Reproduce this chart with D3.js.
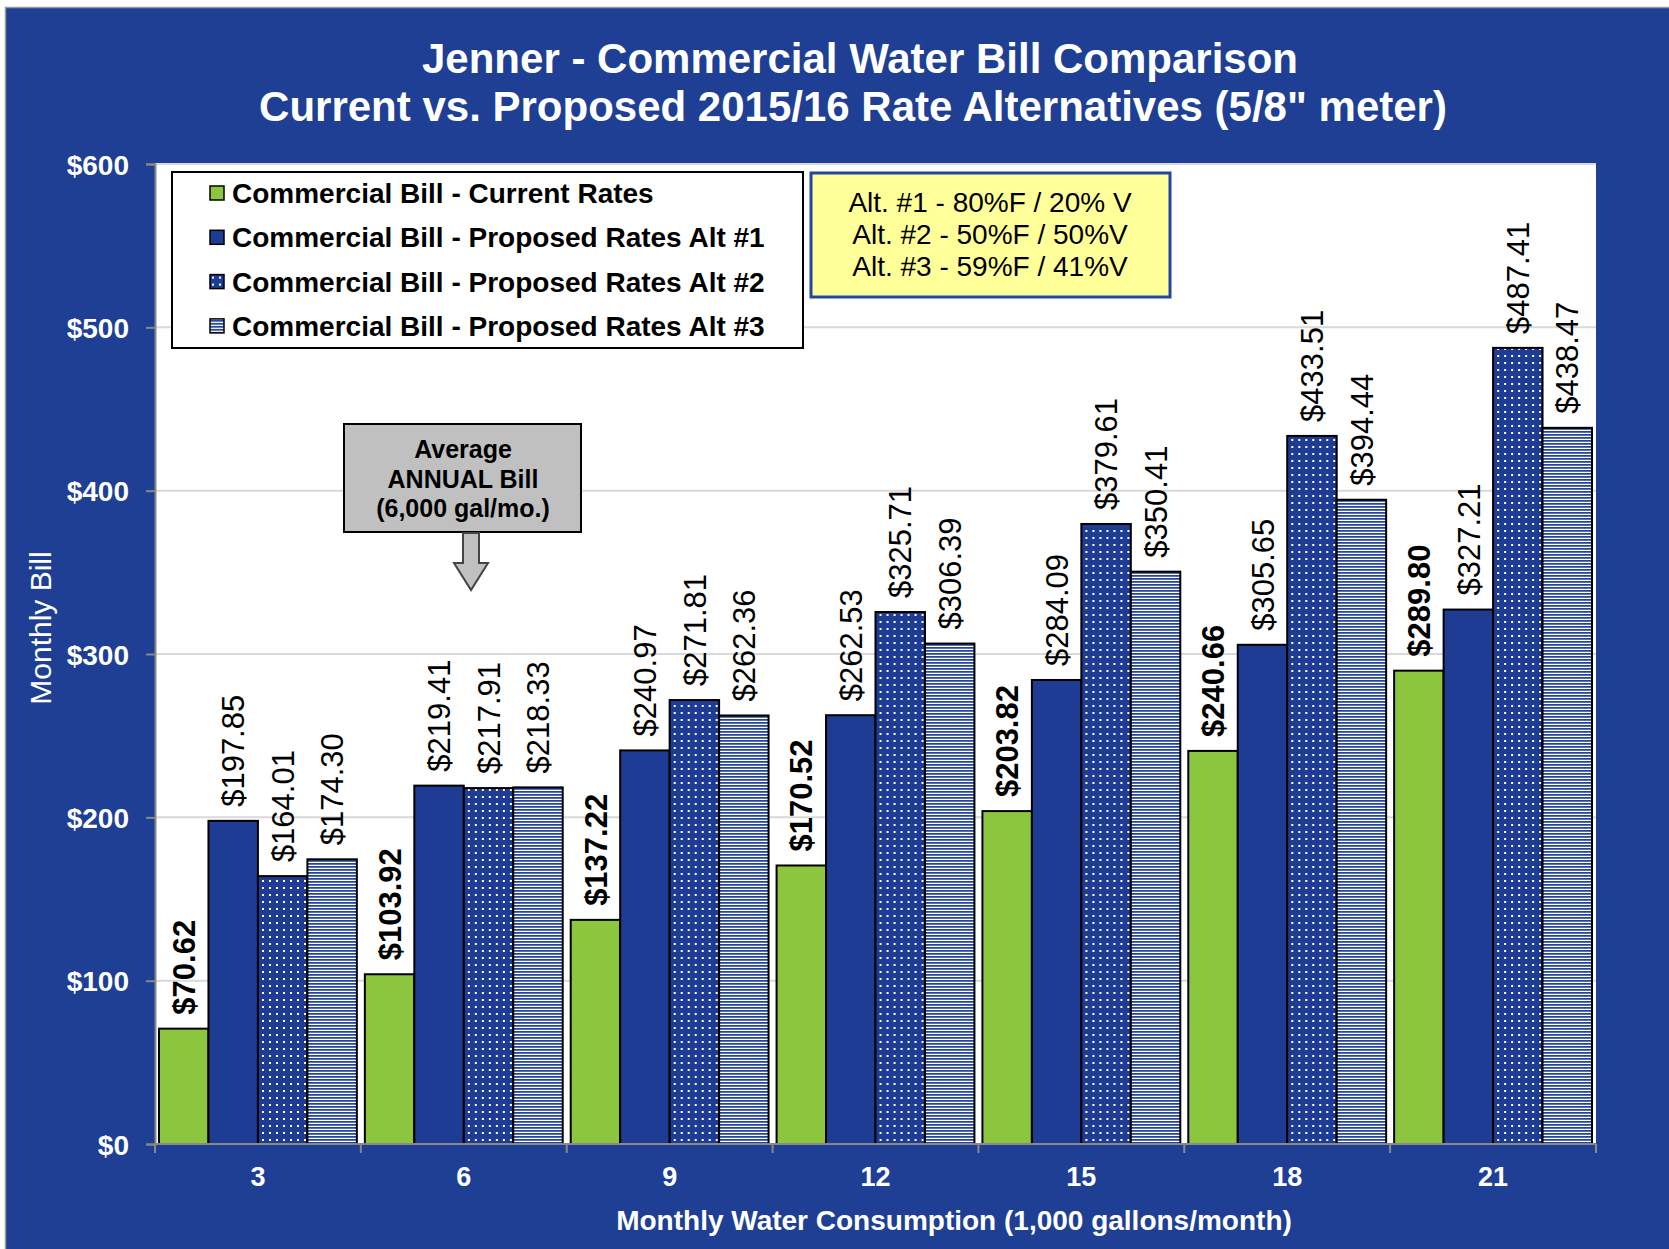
<!DOCTYPE html>
<html>
<head>
<meta charset="utf-8">
<script src="https://cdn.jsdelivr.net/npm/d3@7"></script>
<style>
  body { margin: 0; background: #fff; }
  svg { display: block; font-family: "Liberation Sans", Arial, sans-serif; }
  .graph__title { fill: #fff; font-weight: bold; font-size: 42px; }
  .axis__label { fill: #fff; font-weight: bold; font-size: 27px; }
  .bar__label { font-size: 31px; fill: #000; }
</style>
</head>
<body>
<svg class="bill-frame"></svg>
<script>
// data
const usage = ["3", "6", "9", "12", "15", "18", "21"];
const currentRates = [70.62, 103.92, 137.22, 170.52, 203.82, 240.66, 289.80];
const alt1 = [197.85, 219.41, 240.97, 262.53, 284.09, 305.65, 327.21];
const alt2 = [164.01, 217.91, 271.81, 325.71, 379.61, 433.51, 487.41];
const alt3 = [174.30, 218.33, 262.36, 306.39, 350.41, 394.44, 438.47];
const seriesNames = [
  "Commercial Bill - Current Rates",
  "Commercial Bill - Proposed Rates Alt #1",
  "Commercial Bill - Proposed Rates Alt #2",
  "Commercial Bill - Proposed Rates Alt #3"
];
const yTicks = [0, 100, 200, 300, 400, 500, 600];
const altNotes = ["Alt. #1 - 80%F / 20% V", "Alt. #2 - 50%F / 50%V", "Alt. #3 - 59%F / 41%V"];
const calloutLines = ["Average", "ANNUAL Bill", "(6,000 gal/mo.)"];

const seriesValues = [currentRates, alt1, alt2, alt3];
const data = usage.map((u, i) => ({
  usage: u,
  values: seriesValues.map((s, k) => ({ key: k, value: s[i] }))
}));

const blue = "#1e3f93";
const barBlue = "#1f3c94";
const green = "#8cc63e";

const margin = {top: 164, right: 73, bottom: 105, left: 155}
  , fullWidth = 1669
  , fullHeight = 1249
  , width = fullWidth - margin.left - margin.right
  , height = fullHeight - margin.top - margin.bottom;

const svg = d3.select(".bill-frame")
  .attr("width", fullWidth)
  .attr("height", fullHeight);

// patterns for alt #2 (dots) and alt #3 (stripes)
const defs = svg.append("defs");
const dots = defs.append("pattern")
  .attr("id", "dots")
  .attr("patternUnits", "userSpaceOnUse")
  .attr("width", 7).attr("height", 7);
dots.append("rect").attr("width", 7).attr("height", 7).attr("fill", barBlue);
dots.append("rect").attr("x", 2).attr("y", 2).attr("width", 2).attr("height", 2).attr("fill", "#fff");

const stripes = defs.append("pattern")
  .attr("id", "stripes")
  .attr("patternUnits", "userSpaceOnUse")
  .attr("width", 8).attr("height", 3);
stripes.append("rect").attr("width", 8).attr("height", 3).attr("fill", "#fff");
stripes.append("rect").attr("width", 8).attr("height", 1).attr("fill", "#2444a0");
stripes.append("rect").attr("y", 1).attr("width", 8).attr("height", 1).attr("fill", "#5670b8");

const fills = [green, barBlue, "url(#dots)", "url(#stripes)"];

// outer background
svg.append("rect")
  .attr("x", 5.5).attr("y", 7.5)
  .attr("width", fullWidth).attr("height", fullHeight)
  .attr("fill", blue)
  .attr("stroke", "#999")
  .attr("stroke-width", 1.5);

svg.append("text")
  .attr("x", 860)
  .attr("y", 73)
  .attr("text-anchor", "middle")
  .attr("class", "graph__title")
  .text("Jenner - Commercial Water Bill Comparison");

svg.append("text")
  .attr("x", 853)
  .attr("y", 121)
  .attr("text-anchor", "middle")
  .attr("class", "graph__title")
  .text("Current vs. Proposed 2015/16 Rate Alternatives (5/8\" meter)");

const graph = svg.append("g")
  .attr("transform", "translate(" + margin.left + "," + margin.top + ")")
  .attr("class", "graph");

graph.append("rect")
  .attr("width", width)
  .attr("height", height)
  .attr("fill", "#fff");

const xScale = d3.scaleBand()
  .range([0, width])
  .domain(usage);

const xInner = d3.scaleBand()
  .domain(d3.range(seriesNames.length))
  .range([4, xScale.bandwidth() - 4]);

const yScale = d3.scaleLinear()
  .range([height, 0])
  .domain([0, 600]);

// gridlines
graph.append("g")
  .selectAll("line")
  .data(yTicks.slice(1))
  .enter().append("line")
  .attr("x1", 0).attr("x2", width)
  .attr("y1", (d) => yScale(d)).attr("y2", (d) => yScale(d))
  .attr("stroke", "#d9d9d9")
  .attr("stroke-width", 2);

// y axis
const yAxis = d3.axisLeft(yScale)
  .tickValues(yTicks)
  .tickSize(9)
  .tickPadding(17)
  .tickFormat((d) => "$" + d);

const yG = graph.append("g").call(yAxis);
yG.select(".domain").attr("stroke", "#888").attr("stroke-width", 2);
yG.selectAll(".tick line").attr("stroke", "#888").attr("stroke-width", 2);
yG.selectAll(".tick text")
  .attr("class", "axis__label")
  .attr("font-size", null)
  .attr("font-family", null)
  .style("font-size", "28px")
  .attr("dy", "0.36em");

// bars
const groups = graph.selectAll(".group")
  .data(data)
  .enter().append("g")
  .attr("class", "group")
  .attr("transform", (d) => "translate(" + xScale(d.usage) + ",0)");

groups.selectAll("rect")
  .data((d) => d.values)
  .enter().append("rect")
  .attr("x", (d) => xInner(d.key))
  .attr("width", xInner.bandwidth())
  .attr("y", (d) => yScale(d.value))
  .attr("height", (d) => height - yScale(d.value))
  .attr("fill", (d) => fills[d.key])
  .attr("stroke", "#000")
  .attr("stroke-width", 2);

groups.selectAll(".bar__label")
  .data((d) => d.values)
  .enter().append("text")
  .attr("class", "bar__label")
  .attr("transform", (d) => "translate(" + (xInner(d.key) + xInner.bandwidth() / 2) + "," + (yScale(d.value) - 14) + ") rotate(-90)")
  .attr("dy", "0.36em")
  .attr("font-weight", (d) => d.key === 0 ? "bold" : "normal")
  .text((d) => "$" + d3.format(".2f")(d.value));

// x axis: ticks at group boundaries, labels at centres
const xG = graph.append("g")
  .attr("transform", "translate(0," + height + ")");

xG.append("line")
  .attr("x1", 0).attr("x2", width)
  .attr("stroke", "#888").attr("stroke-width", 2);

xG.selectAll(".xtick")
  .data(usage.concat(["end"]))
  .enter().append("line")
  .attr("x1", (d, i) => i < usage.length ? xScale(d) : width)
  .attr("x2", (d, i) => i < usage.length ? xScale(d) : width)
  .attr("y1", 0).attr("y2", 9)
  .attr("stroke", "#888").attr("stroke-width", 2);

xG.selectAll(".xlabel")
  .data(usage)
  .enter().append("text")
  .attr("class", "axis__label")
  .attr("x", (d) => xScale(d) + xScale.bandwidth() / 2)
  .attr("y", 42)
  .attr("text-anchor", "middle")
  .text((d) => d);

svg.append("text")
  .attr("x", 954)
  .attr("y", 1230)
  .attr("text-anchor", "middle")
  .attr("class", "axis__label")
  .style("font-size", "28px")
  .text("Monthly Water Consumption (1,000 gallons/month)");

svg.append("text")
  .attr("transform", "translate(40,628) rotate(-90)")
  .attr("text-anchor", "middle")
  .attr("dy", "0.36em")
  .attr("fill", "#fff")
  .attr("font-size", "30px")
  .text("Monthly Bill");

// legend
const legend = svg.append("g");
legend.append("rect")
  .attr("x", 172).attr("y", 172)
  .attr("width", 631).attr("height", 176)
  .attr("fill", "#fff")
  .attr("stroke", "#000")
  .attr("stroke-width", 2);

const legendRows = legend.selectAll(".legend__row")
  .data(seriesNames)
  .enter().append("g")
  .attr("transform", (d, i) => "translate(210," + (193 + i * 44.3) + ")");

legendRows.append("rect")
  .attr("x", 0).attr("y", -7)
  .attr("width", 14).attr("height", 14)
  .attr("fill", (d, i) => fills[i])
  .attr("stroke", "#000")
  .attr("stroke-width", 1.5);

legendRows.append("text")
  .attr("x", 22)
  .attr("dy", "0.36em")
  .attr("font-weight", "bold")
  .attr("font-size", "28px")
  .text((d) => d);

// alternatives note
svg.append("rect")
  .attr("x", 811).attr("y", 173)
  .attr("width", 359).attr("height", 124)
  .attr("fill", "#ffff99")
  .attr("stroke", "#2346a0")
  .attr("stroke-width", 3);

svg.selectAll(".alt__note")
  .data(altNotes)
  .enter().append("text")
  .attr("x", 990)
  .attr("y", (d, i) => 202 + i * 32)
  .attr("dy", "0.36em")
  .attr("text-anchor", "middle")
  .attr("font-size", "28px")
  .text((d) => d);

// callout box with arrow
svg.append("rect")
  .attr("x", 344).attr("y", 424)
  .attr("width", 237).attr("height", 108)
  .attr("fill", "#c0c0c0")
  .attr("stroke", "#000")
  .attr("stroke-width", 2);

svg.selectAll(".callout")
  .data(calloutLines)
  .enter().append("text")
  .attr("x", 463)
  .attr("y", (d, i) => 449 + i * 29.5)
  .attr("dy", "0.36em")
  .attr("text-anchor", "middle")
  .attr("font-weight", "bold")
  .attr("font-size", "25px")
  .text((d) => d);

const ax = 471;
svg.append("path")
  .attr("d", d3.line()([
    [ax - 8, 533], [ax + 8, 533], [ax + 8, 563], [ax + 17, 563],
    [ax, 590], [ax - 17, 563], [ax - 8, 563]
  ]) + "Z")
  .attr("fill", "#c0c0c0")
  .attr("stroke", "#444")
  .attr("stroke-width", 2);
</script>
</body>
</html>
